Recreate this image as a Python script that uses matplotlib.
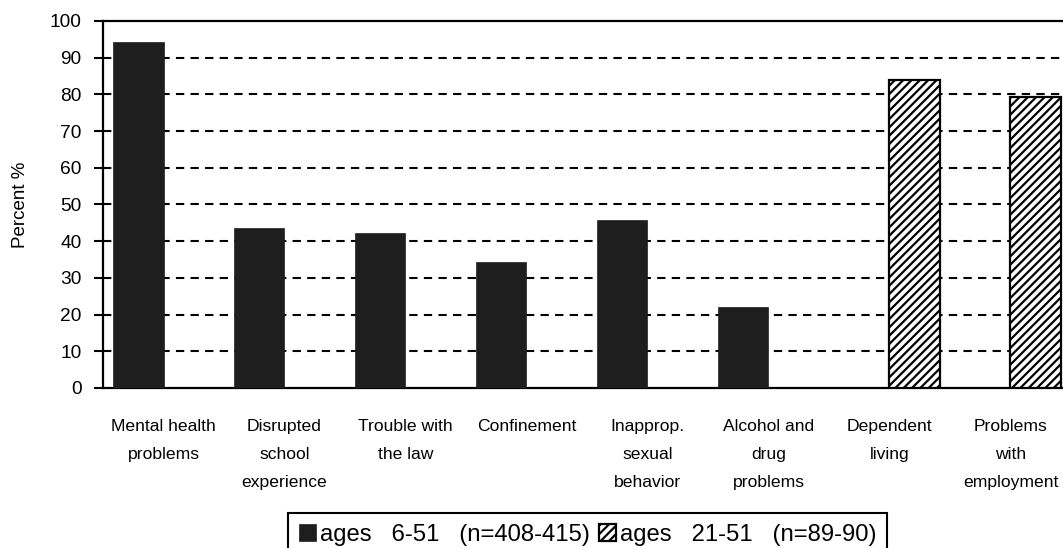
import numpy as np
import matplotlib
matplotlib.use('Agg')
import matplotlib.pyplot as plt

plt.rcParams['font.family'] = ['Liberation Sans', 'DejaVu Sans']
plt.rcParams['hatch.linewidth'] = 1.6

# --- data ---
categories = ['Mental health\nproblems', 'Disrupted\nschool\nexperience',
              'Trouble with\nthe law', 'Confinement',
              'Inapprop.\nsexual\nbehavior', 'Alcohol and\ndrug\nproblems',
              'Dependent\nliving', 'Problems\nwith\nemployment']
ages_6_51 = [94.2, 43.5, 42.1, 34.4, 45.8, 22.1, np.nan, np.nan]
ages_21_51 = [np.nan] * 6 + [83.8, 79.2]
yticks = list(range(0, 101, 10))
legend_labels = ['ages   6-51   (n=408-415)', 'ages   21-51   (n=89-90)']

fig = plt.figure(figsize=(10.63, 5.48), dpi=100)
ax = fig.add_axes([0.0969, 0.292, 0.9106, 0.6697])

x = np.arange(len(categories))
w = 0.415
b1 = ax.bar(x - w / 2, ages_6_51, width=w, color='#1e1e1e', edgecolor='#1e1e1e',
            linewidth=0.5, label=legend_labels[0], zorder=3)
b2 = ax.bar(x + w / 2, ages_21_51, width=w, color='white', edgecolor='black',
            linewidth=1.6, hatch='////', label=legend_labels[1], zorder=3)

ax.set_xlim(-0.5, len(categories) - 0.5)
ax.set_ylim(0, 100)
ax.set_yticks(yticks)
ax.set_xticks(x)
ax.set_xticklabels(categories, fontsize=12.6, linespacing=2.1)
ax.tick_params(axis='x', length=0, pad=22)
ax.tick_params(axis='y', direction='out', length=6.5, width=1.5, pad=9, labelsize=13.8)

# dashed horizontal grid
for yv in yticks[1:-1]:
    ax.axhline(yv, color='black', linewidth=1.5, dashes=(4, 3), zorder=1)

for side in ['left', 'bottom', 'top']:
    ax.spines[side].set_linewidth(1.6)
ax.spines['right'].set_visible(False)

ax.set_ylabel('Percent %', fontsize=13.5)
ax.yaxis.set_label_coords(-0.076, 0.5)

leg = fig.legend(handles=[b1, b2], labels=legend_labels, ncol=2,
                 loc='upper left', bbox_to_anchor=(288 / 1063, 1 - 513 / 548),
                 fontsize=17.2, handlelength=0.72, handleheight=0.72,
                 handletextpad=0.15, columnspacing=0.4, borderpad=0.45,
                 borderaxespad=0, frameon=True, fancybox=False, framealpha=1,
                 edgecolor='black')
leg.get_frame().set_linewidth(1.5)

fig.savefig('out.png', dpi=100, facecolor='white')
plt.close('all')
